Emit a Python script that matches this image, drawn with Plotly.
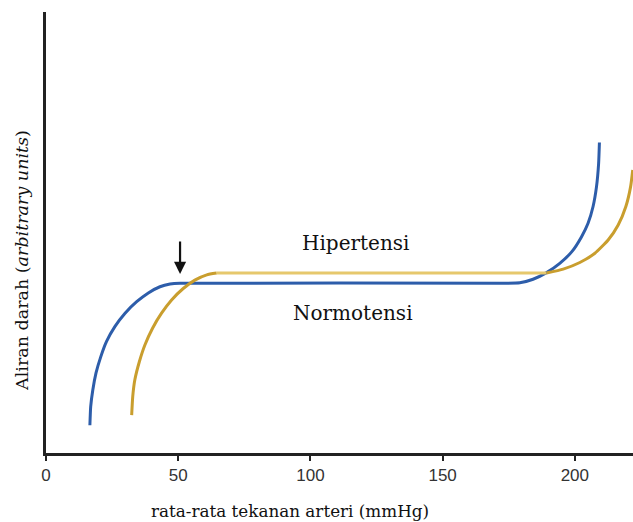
import plotly.graph_objects as go

# Blue curve: normotensive
normo_x = [16.6, 16.9, 17.7, 18.9, 20.7, 22.9, 26.1, 29.9, 34.3, 38.7, 43.1, 46.9, 50.7,
           171.6, 179.2, 184.2, 189.3, 194.3, 198.8, 202.5, 205.0, 206.9, 208.2, 209.0, 209.3]
normo_y = [6.3, 10.5, 14.3, 18.1, 21.8, 25.3, 28.7, 31.7, 34.3, 36.3, 37.7, 38.3, 38.5,
           38.5, 38.6, 39.4, 40.9, 43.0, 45.6, 49.0, 52.1, 55.9, 60.4, 65.7, 70.4]

# Gold curve: hypertensive (left rise, plateau, right rise)
hyper_left_x = [32.4, 32.8, 33.6, 35.3, 37.4, 40.3, 43.7, 47.5, 51.9, 56.3, 60.8, 64.5]
hyper_left_y = [8.6, 12.8, 16.6, 20.7, 24.5, 28.3, 31.7, 34.7, 37.3, 39.2, 40.4, 40.8]
hyper_plat_x = [64.5, 189.3]
hyper_plat_y = [40.8, 40.8]
hyper_right_x = [189.3, 195.6, 201.9, 207.6, 212.6, 216.4, 219.3, 221.1, 221.9]
hyper_right_y = [40.8, 41.7, 43.2, 45.3, 48.3, 51.7, 55.9, 60.4, 64.2]

x_ticks = [0, 50, 100, 150, 200]

BLUE = "#2D5DAA"
GOLD = "#C99E2E"
GOLD_LIGHT = "#E6C86C"

fig = go.Figure()
fig.add_trace(go.Scatter(x=normo_x, y=normo_y, mode="lines",
                         line=dict(color=BLUE, width=3, shape="spline", smoothing=0.5)))
fig.add_trace(go.Scatter(x=hyper_plat_x, y=hyper_plat_y, mode="lines",
                         line=dict(color=GOLD_LIGHT, width=3)))
fig.add_trace(go.Scatter(x=hyper_left_x, y=hyper_left_y, mode="lines",
                         line=dict(color=GOLD, width=3, shape="spline", smoothing=0.5)))
fig.add_trace(go.Scatter(x=hyper_right_x, y=hyper_right_y, mode="lines",
                         line=dict(color=GOLD, width=3, shape="spline", smoothing=0.5)))

serif = "DejaVu Serif"

fig.add_annotation(x=117.2, y=47.6, text="Hipertensi", showarrow=False,
                   font=dict(family=serif, size=20, color="#111"))
fig.add_annotation(x=116.1, y=31.7, text="Normotensi", showarrow=False,
                   font=dict(family=serif, size=20, color="#111"))
# arrow
fig.add_annotation(x=50.7, y=40.6, ax=0, ay=-34, text="", showarrow=True,
                   arrowhead=2, arrowsize=1.1, arrowwidth=2.2, arrowcolor="#111")
# axis titles
fig.add_annotation(xref="paper", yref="paper", x=0.415, y=-0.1315, text="rata-rata tekanan arteri (mmHg)",
                   showarrow=False, yanchor="middle", font=dict(family=serif, size=16.8, color="#111"))
fig.add_annotation(xref="paper", yref="paper", x=-0.041, y=0.4376, text="Aliran darah (<i>arbitrary units</i>)",
                   showarrow=False, textangle=-90, xanchor="center", yanchor="middle",
                   font=dict(family=serif, size=17.5, color="#111"))

fig.update_layout(
    width=633, height=522,
    margin=dict(l=46, r=0, t=12, b=69),
    paper_bgcolor="white", plot_bgcolor="white",
    showlegend=False,
    xaxis=dict(range=[0, 222], tickvals=x_ticks, showgrid=False, zeroline=False,
               showline=True, linewidth=2.5, linecolor="#222",
               ticks="outside", ticklen=5, tickwidth=1.5, tickcolor="#222",
               tickfont=dict(family="Liberation Sans", size=17, color="#333")),
    yaxis=dict(range=[0, 100], showgrid=False, zeroline=False, showticklabels=False,
               showline=True, linewidth=2.5, linecolor="#222", ticks=""),
)

fig.write_html("out.html")
